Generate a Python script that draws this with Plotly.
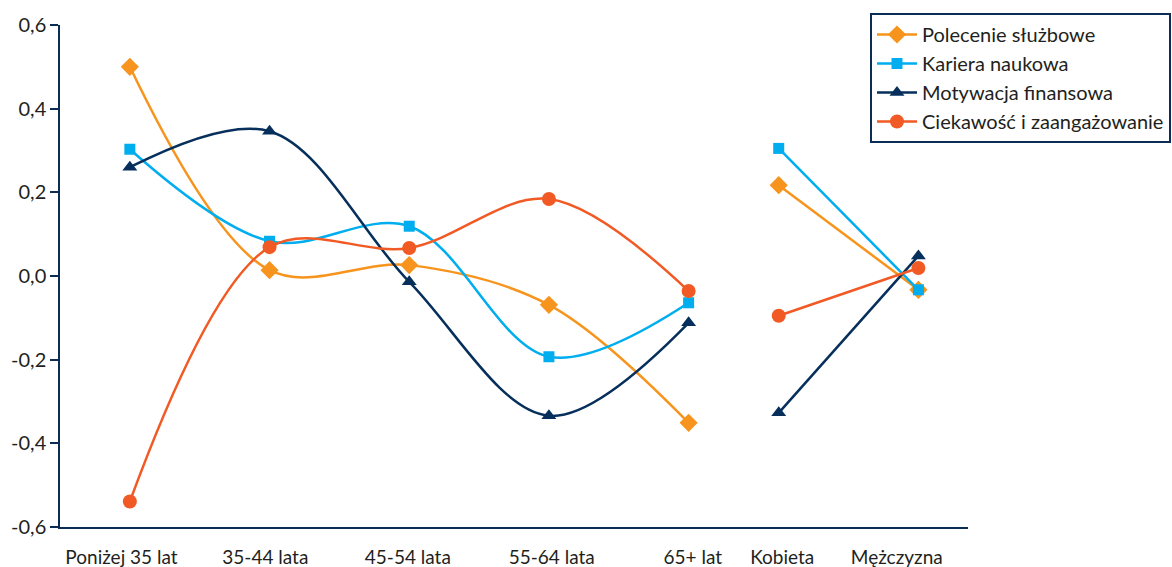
import plotly.graph_objects as go

# Category labels and their horizontal positions on a numeric axis
age_groups = ["Poniżej 35 lat", "35-44 lata", "45-54 lata", "55-64 lata", "65+ lat"]
genders = ["Kobieta", "Mężczyzna"]
age_pos = [0, 1, 2, 3, 4]
gender_pos = [4.645, 5.645]
# Where the category labels sit under the axis
label_pos = [-0.06, 0.97, 1.99, 3.02, 4.03, 4.67, 5.49]

# Series values: age groups, then genders
polecenie_age = [0.50, 0.014, 0.026, -0.069, -0.351]
polecenie_gen = [0.217, -0.033]
kariera_age = [0.303, 0.083, 0.119, -0.193, -0.064]
kariera_gen = [0.305, -0.033]
motywacja_age = [0.26, 0.346, -0.014, -0.334, -0.112]
motywacja_gen = [-0.327, 0.048]
ciekawosc_age = [-0.539, 0.069, 0.067, 0.184, -0.036]
ciekawosc_gen = [-0.095, 0.019]

y_ticks = [-0.6, -0.4, -0.2, 0.0, 0.2, 0.4, 0.6]
# Decimal comma and plain hyphen for negatives
y_tick_text = [f"{v:.1f}".replace(".", ",") for v in y_ticks]

series = [
    ("Polecenie służbowe", polecenie_age, polecenie_gen, "#F7941D", "diamond", 14),
    ("Kariera naukowa", kariera_age, kariera_gen, "#00AEEF", "square", 11),
    ("Motywacja finansowa", motywacja_age, motywacja_gen, "#062F5B", "triangle-up", 13),
    ("Ciekawość i zaangażowanie", ciekawosc_age, ciekawosc_gen, "#F15A24", "circle", 14),
]

fig = go.Figure()
for name, age_vals, gen_vals, color, symbol, size in series:
    fig.add_trace(go.Scatter(
        x=age_pos, y=age_vals, name=name, legendgroup=name,
        mode="lines+markers",
        line=dict(color=color, width=2.5, shape="spline", smoothing=1.0),
        marker=dict(symbol=symbol, size=size, color=color),
    ))
    fig.add_trace(go.Scatter(
        x=gender_pos, y=gen_vals, name=name, legendgroup=name, showlegend=False,
        mode="lines+markers",
        line=dict(color=color, width=2.5),
        marker=dict(symbol=symbol, size=size, color=color),
    ))

navy = "#0B2D55"
fig.update_layout(
    width=1172, height=567,
    margin=dict(l=60, r=204, t=25, b=40, autoexpand=False),
    paper_bgcolor="white", plot_bgcolor="white",
    font=dict(family="Lato, 'Open Sans', sans-serif", color="#231F20"),
    legend=dict(
        x=870 / 1172, xref="container", xanchor="left",
        y=1 - 13 / 567, yref="container", yanchor="top",
        bordercolor=navy, borderwidth=2, bgcolor="white",
        font=dict(size=20), itemwidth=40,
        tracegroupgap=0,
    ),
    xaxis=dict(
        range=[-0.5, 6.0], showgrid=False, zeroline=False,
        tickvals=label_pos, ticktext=age_groups + genders,
        ticks="", showline=True, linecolor=navy, linewidth=1.5,
        tickfont=dict(size=19), ticklabelstandoff=12, automargin=False,
    ),
    yaxis=dict(
        range=[-0.6, 0.6], showgrid=False, zeroline=False,
        tickvals=y_ticks, ticktext=y_tick_text,
        ticks="outside", ticklen=8, tickcolor=navy, tickwidth=1.5,
        showline=True, linecolor=navy, linewidth=1.5,
        tickfont=dict(size=20), automargin=False,
    ),
)

fig.write_html("out.html")
